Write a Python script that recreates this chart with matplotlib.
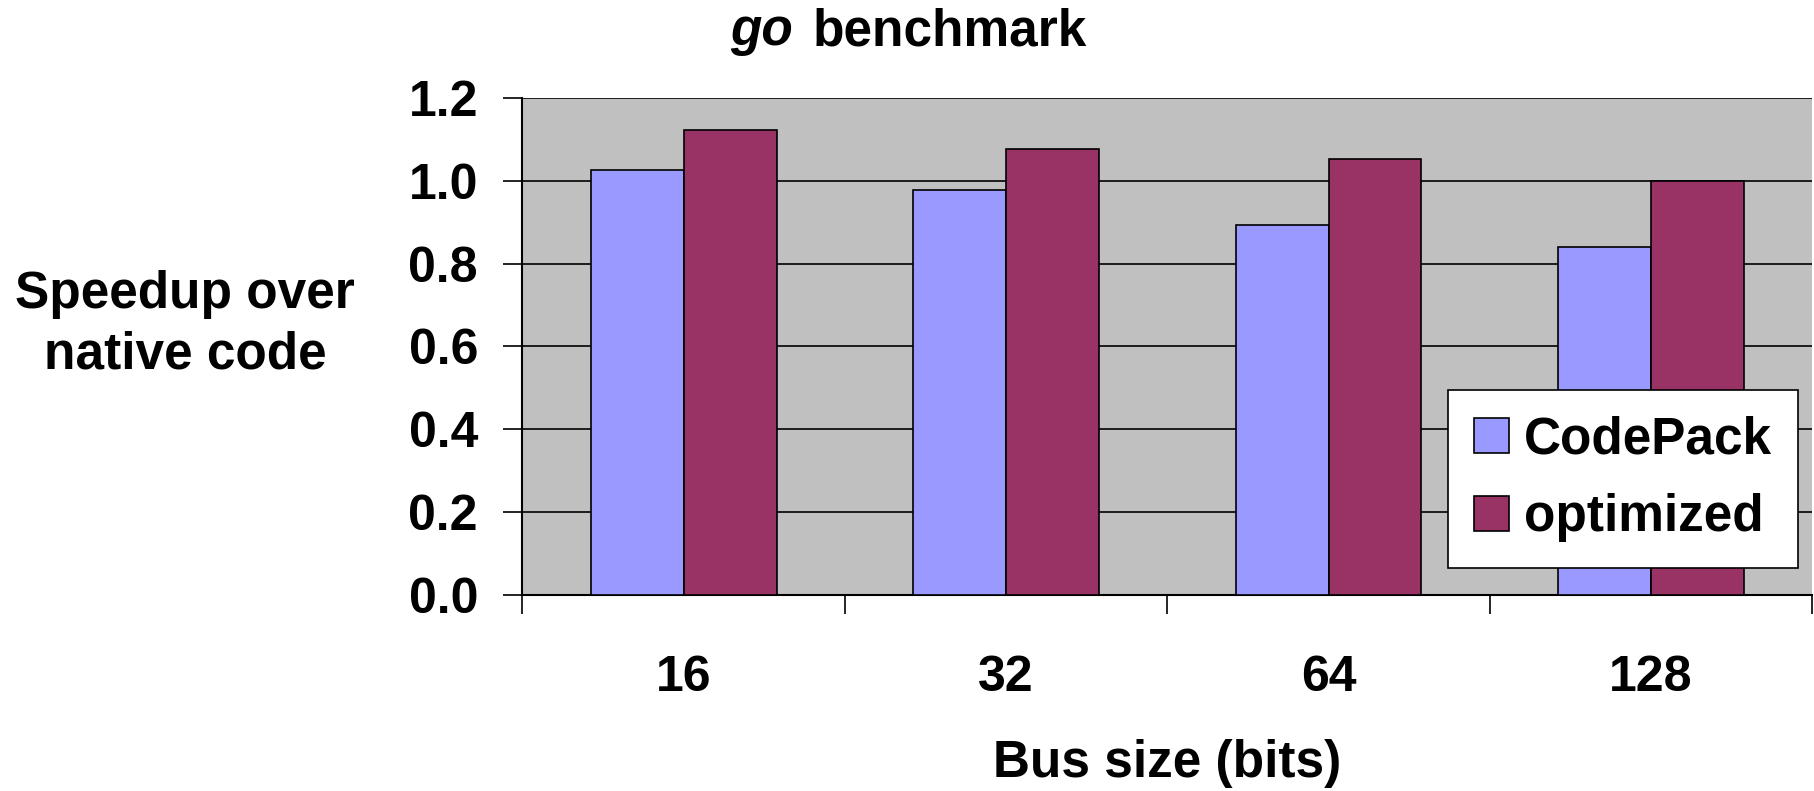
import numpy as np
import matplotlib.pyplot as plt
from matplotlib.ticker import MultipleLocator, FixedLocator, NullFormatter

bus_sizes = ["16", "32", "64", "128"]
codepack = [1.026, 0.979, 0.894, 0.840]
optimized = [1.123, 1.077, 1.053, 1.000]

plt.rcParams['font.family'] = ['Liberation Sans', 'DejaVu Sans']
plt.rcParams['font.weight'] = 'bold'
FS = 37

fig = plt.figure(figsize=(18.14, 7.91), dpi=100)
ax = fig.add_axes([0.288, 0.248, 0.711, 0.628])
ax.set_facecolor('#C0C0C0')

x = np.arange(len(bus_sizes)) + 0.5
w = 0.288
ax.bar(x - w / 2, codepack, w, color='#9999FF', edgecolor='black', linewidth=1.2,
       label='CodePack', zorder=3)
ax.bar(x + w / 2, optimized, w, color='#993366', edgecolor='black', linewidth=1.2,
       label='optimized', zorder=3)

ax.set_ylim(0, 1.2)
ax.set_xlim(0, len(bus_sizes))
ax.yaxis.set_major_locator(MultipleLocator(0.2))
ax.yaxis.set_major_formatter(plt.FuncFormatter(lambda v, p: f"{v:.1f}"))
ax.grid(axis='y', color='black', linewidth=1.2, zorder=1)

# category boundaries get the tick marks, labels sit in between
ax.xaxis.set_major_locator(FixedLocator(np.arange(len(bus_sizes) + 1)))
ax.xaxis.set_major_formatter(NullFormatter())
ax.xaxis.set_minor_locator(FixedLocator(x))
ax.set_xticklabels(bus_sizes, minor=True)
ax.tick_params(axis='x', which='major', direction='out', length=14, width=1.2)
ax.tick_params(axis='x', which='minor', length=0, pad=43, labelsize=FS - 1)
ax.tick_params(axis='y', direction='out', length=14, width=1.2, pad=18, labelsize=FS - 1)

for s in ['top', 'right']:
    ax.spines[s].set_visible(False)
ax.spines['left'].set_linewidth(1.5)
ax.spines['bottom'].set_linewidth(1.5)

fig.text(0.102, 0.59, "Speedup over\nnative code", ha='center', va='center',
         fontsize=FS, fontweight='bold', linespacing=1.3)
ax.set_xlabel("Bus size (bits)", fontsize=FS, fontweight='bold', labelpad=28)
fig.text(0.437, 0.943, "go", ha='right', va='baseline', fontsize=FS,
         fontweight='bold', style='italic')
fig.text(0.448, 0.943, "benchmark", ha='left', va='baseline', fontsize=FS,
         fontweight='bold')

leg = ax.legend(loc='lower right', bbox_to_anchor=(0.989, 0.054), fontsize=FS,
                frameon=True, fancybox=False, edgecolor='black', framealpha=1,
                handlelength=0.68, handleheight=0.66, handletextpad=0.3,
                labelspacing=0.56, borderpad=0.5, borderaxespad=0)
leg.get_frame().set_linewidth(1.2)

fig.savefig("out.png", dpi=100)
